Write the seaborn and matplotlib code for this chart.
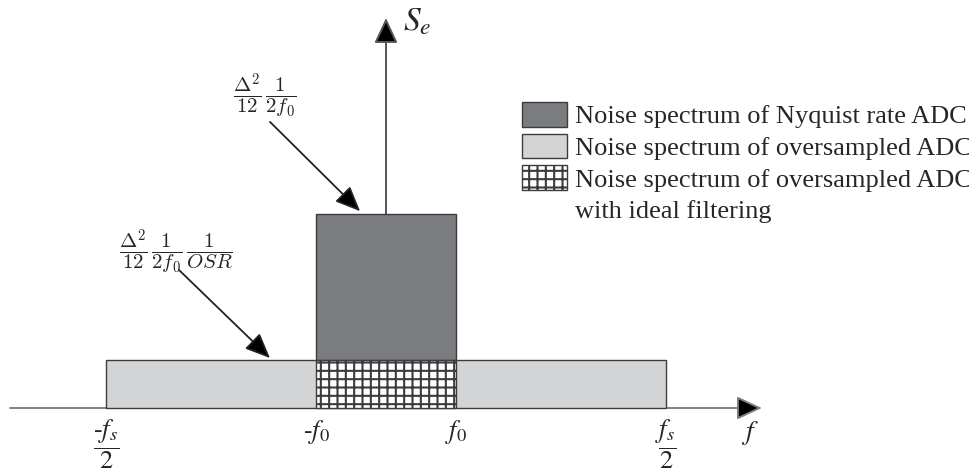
import matplotlib
matplotlib.use("Agg")
import matplotlib.pyplot as plt
import seaborn as sns
from matplotlib.patches import Patch

# noise bands: (left edge, width, bottom, height) in units of f0 / oversampled level
band_names = ["Noise spectrum of oversampled ADC",
              "Noise spectrum of Nyquist rate ADC",
              "Noise spectrum of oversampled ADC"]
band_left = [-4, -1, -1]
band_width = [8, 2, 2]
band_bottom = [0, 1, 0]
band_height = [1, 3.05, 1]
band_color = ["#d3d4d6", "#7b7c80", "white"]
band_hatch = [None, None, "++"]
extra_line = "with ideal filtering"

tick_pos = [-4, -1, 1, 4]
tick_labels = [r"$\dfrac{\text{-}f_s}{2}$", r"$\text{-}f_0$", r"$f_0$", r"$\dfrac{f_s}{2}$"]

sns.set_theme(style="white")
plt.rcParams["font.family"] = ["Liberation Serif", "DejaVu Serif"]
plt.rcParams["mathtext.fontset"] = "stix"
plt.rcParams["hatch.linewidth"] = 1.5
plt.rcParams["hatch.color"] = "black"

fig = plt.figure(figsize=(9.7, 4.72), dpi=100)
ax = fig.add_axes([0, 0, 1, 1])
ax.set_xlim(-386 / 70, 584 / 70)
ax.set_ylim(-64 / 48, 408 / 48)
ax.set_axis_off()

# axes with arrow heads
arrow_kw = dict(arrowstyle="-|>,head_length=0.6,head_width=0.28", mutation_scale=26,
                fc="black", ec="#555555", lw=1.4, shrinkA=0, shrinkB=0)
ax.annotate("", xy=(0, 8.125), xytext=(0, 0), arrowprops=arrow_kw, zorder=1)
ax.annotate("", xy=(5.37, 0), xytext=(-5.37, 0),
            arrowprops=dict(arrow_kw, ec="#808080"), zorder=1)

# order: oversampled, Nyquist, hatched on top
for i in [0, 1, 2]:
    ax.bar(band_left[i], band_height[i], width=band_width[i], bottom=band_bottom[i],
           align="edge", color=band_color[i], edgecolor="#3c3c3c", linewidth=1.0,
           hatch=band_hatch[i], zorder=2)

for x, lab in zip(tick_pos, tick_labels):
    ax.text(x, -0.2, lab, ha="center", va="top", fontsize=19)

ax.text(5.2, -0.52, r"$f$", ha="center", va="center", fontsize=20)
ax.text(0.24, 8.04, r"$S_e$", ha="left", va="center", fontsize=24)

lab1 = r"$\dfrac{\Delta^2}{12}\,\dfrac{1}{2f_0}$"
lab2 = r"$\dfrac{\Delta^2}{12}\,\dfrac{1}{2f_0}\,\dfrac{1}{OSR}$"
ax.text(-1.73, 6.5, lab1, ha="center", va="center", fontsize=15, math_fontfamily="cm")
ax.text(-3.0, 3.25, lab2, ha="center", va="center", fontsize=15, math_fontfamily="cm")

pointer = dict(arrowstyle="-|>,head_length=0.7,head_width=0.3", mutation_scale=22,
               fc="black", ec="#222222", lw=1.3, shrinkA=0, shrinkB=0)
ax.annotate("", xy=(-0.37, 4.1), xytext=(-1.657, 5.96), arrowprops=pointer, zorder=4)
ax.annotate("", xy=(-1.657, 1.04), xytext=(-2.957, 2.875), arrowprops=pointer, zorder=4)

handles = [Patch(facecolor=band_color[1], edgecolor="#3c3c3c", lw=1.0),
           Patch(facecolor=band_color[0], edgecolor="#3c3c3c", lw=1.0),
           Patch(facecolor="white", edgecolor="#3c3c3c", lw=1.0, hatch="++"),
           Patch(facecolor="none", edgecolor="none")]
labels = [band_names[1], band_names[0], band_names[2], extra_line]
ax.legend(handles, labels, loc="upper left", bbox_to_anchor=(522 / 970, 1 - 102 / 472),
          bbox_transform=fig.transFigure, frameon=False, fontsize=19,
          handlelength=1.7, handleheight=1.06, handletextpad=0.3,
          labelspacing=0.2, borderpad=0, borderaxespad=0)

fig.savefig("out.png", dpi=100)
